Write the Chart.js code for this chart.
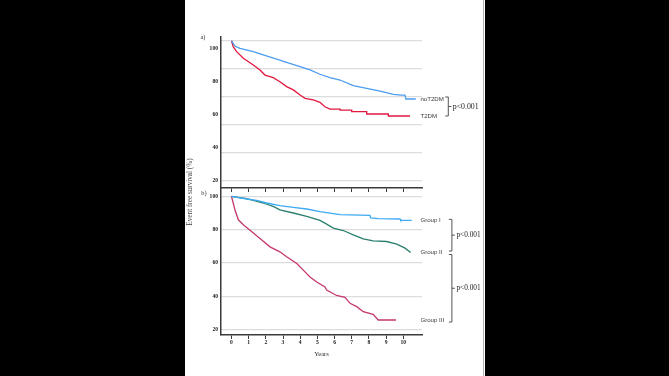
<!DOCTYPE html>
<html><head><meta charset="utf-8">
<script src="https://cdn.jsdelivr.net/npm/chart.js@4"></script>
<style>
html,body{margin:0;padding:0;background:#000;width:669px;height:376px;overflow:hidden}
#paper{position:absolute;left:185px;top:0;width:300px;height:376px;background:#fff}
#edge{position:absolute;left:483px;top:0;width:1px;height:376px;background:#b5b5b5}
canvas{position:absolute;left:185px;top:0}
</style></head><body>
<div id="paper"></div><div id="edge"></div>
<canvas id="ca" width="300" height="376"></canvas>
<canvas id="cb" width="300" height="376"></canvas>
<script>
// ---- data ----
const yearTicks = [0,1,2,3,4,5,6,7,8,9,10];
const survivalTicks = [20,40,60,80,100];
const panelAGridValues = [20,37,54,71,88,105];
const panelALabels = ['noT2DM','T2DM'];
const panelBLabels = ['Group I','Group II','Group III'];
const pText = 'p<0.001';

const noT2DM_t = [0,0.20,0.49,1.27,1.85,2.63,3.21,3.99,4.57,5.15,5.73,6.32,7.09,7.87,8.65,9.42,9.87,10.10,10.15,10.73];
const noT2DM_s = [105,101.8,100.4,98.4,96.4,93.9,91.9,89.3,87.3,84.7,82.6,81.2,77.8,76.2,74.5,72.5,72.1,72.1,69.7,69.7];

const T2DM_t = [0,0.10,0.30,0.69,1.27,1.66,1.95,2.43,2.82,3.21,3.60,3.99,4.28,4.76,5.15,5.44,5.73,6.32,6.32,7.00,7.00,7.87,7.87,9.13,9.13,10.39];
const T2DM_s = [105,101.4,98.4,94.4,90.3,87.3,84.2,82.6,80.2,77.2,75.2,72.1,70.1,69.1,67.7,65.0,63.6,63.6,63.0,63.0,62.0,62.0,60.6,60.6,59.4,59.4];

const groupI_t = [0,0.88,1.47,2.05,2.82,3.60,4.38,5.15,6.32,8.06,8.10,8.54,9.81,9.85,10.49];
const groupI_s = [100,98.4,97.6,96.0,94.4,93.4,92.4,90.8,89.0,88.6,87.0,86.6,86.4,85.6,85.6];

const groupII_t = [0,0.88,1.27,1.85,2.43,2.82,3.60,4.38,5.15,5.44,5.93,6.51,7.09,7.67,8.25,9.03,9.62,10.10,10.43];
const groupII_s = [100,98.6,97.6,96.0,94.0,91.9,90.0,88.0,85.6,83.9,80.9,79.5,76.9,74.5,73.3,72.9,71.3,68.9,66.3];

const groupIII_t = [0,0.10,0.20,0.40,0.69,1.08,1.66,2.24,2.82,3.21,3.80,4.18,4.57,4.96,5.44,5.54,6.12,6.61,6.90,7.29,7.67,8.25,8.54,9.58];
const groupIII_s = [100,96.0,91.9,85.9,82.9,79.7,74.7,69.7,66.7,63.7,59.7,55.7,51.6,48.6,45.6,43.8,40.5,39.4,35.8,33.8,30.8,29.2,25.8,25.8];

// ---- helpers ----
const pts = (t,s) => t.map((x,i)=>({x:x,y:s[i]}));
const SERIF = '"Liberation Serif", "Times New Roman", serif';
const SANS = '"Liberation Sans", Arial, sans-serif';
const tickFont = {family:SERIF, size:5.6, weight:'bold'};
const axisColor = '#3a3a3a';
const gridColor = '#dcdcdc';

function ds(label, t, s, color){
  return {label:label, data:pts(t,s), borderColor:color, borderWidth:1.3, pointRadius:0, tension:0, fill:false};
}
function xScale(showLabels, h, title){
  return {
    type:'linear', min:-0.61, max:11.09,
    afterBuildTicks: s => { s.ticks = yearTicks.map(v=>({value:v})); },
    afterFit: s => { s.height = h; },
    ticks:{display:showLabels, font:tickFont, color:'#222', padding:0, maxRotation:0, autoSkip:false},
    grid:{drawOnChartArea:false, drawTicks:true, tickLength:4, color:axisColor, lineWidth:1},
    border:{display:true, color:axisColor, width:1.5},
    title: title ? {display:true, text:title, font:{family:SERIF, size:6.6}, color:'#333', padding:0} : {display:false}
  };
}
function yScale(min,max,showGrid){
  return {
    type:'linear', min:min, max:max,
    afterBuildTicks: s => { s.ticks = survivalTicks.map(v=>({value:v})); },
    afterFit: s => { s.width = 20; },
    ticks:{font:tickFont, color:'#222', padding:3, autoSkip:false},
    grid:{display:showGrid, drawTicks:false, color:gridColor, lineWidth:1.2},
    border:{display:true, color:axisColor, width:1.5}
  };
}
function drawBracket(ctx, bx, top, bottom, text, size){
  ctx.save();
  ctx.strokeStyle = '#555'; ctx.lineWidth = 1;
  ctx.beginPath();
  ctx.moveTo(bx-3, top); ctx.lineTo(bx, top); ctx.lineTo(bx, bottom); ctx.lineTo(bx-3, bottom);
  const mid = (top+bottom)/2;
  ctx.moveTo(bx, mid); ctx.lineTo(bx+3, mid);
  ctx.stroke();
  ctx.fillStyle = '#222'; ctx.font = size + 'px ' + SERIF;
  ctx.textAlign = 'left'; ctx.textBaseline = 'middle';
  ctx.fillText(text, bx+4.5, mid);
  ctx.restore();
}
function endLabels(chart, names, bracketYear){
  const ctx = chart.ctx, xs = chart.scales.x, ys = chart.scales.y;
  const lx = xs.getPixelForValue(11.0);
  const ys_ = [];
  chart.data.datasets.forEach((d,i)=>{
    const last = d.data[d.data.length-1];
    const py = ys.getPixelForValue(last.y);
    ys_.push(py);
    ctx.save();
    ctx.fillStyle = '#3a3a3a'; ctx.font = '6.1px ' + SANS;
    ctx.textAlign='left'; ctx.textBaseline='middle';
    ctx.fillText(names[i], lx, py);
    ctx.restore();
  });
  return {ys:ys_, bx: xs.getPixelForValue(bracketYear)};
}

const annotA = {
  id:'annotA',
  afterDatasetsDraw(chart){
    const r = endLabels(chart, panelALabels, 12.62);
    drawBracket(chart.ctx, r.bx, r.ys[0]-2, r.ys[1], pText, 7.8);
    const ctx = chart.ctx, a = chart.chartArea;
    ctx.save(); ctx.fillStyle='#333'; ctx.font='6.4px '+SERIF;
    ctx.textAlign='center'; ctx.textBaseline='middle';
    ctx.fillText('a)', a.left-18, a.top);
    ctx.restore();
  }
};
const annotB = {
  id:'annotB',
  afterDatasetsDraw(chart){
    const r = endLabels(chart, panelBLabels, 12.83);
    drawBracket(chart.ctx, r.bx, r.ys[0]-1, r.ys[1]-1.5, pText, 7.3);
    drawBracket(chart.ctx, r.bx, r.ys[1]+2, r.ys[2]+2, pText, 7.3);
    const ctx = chart.ctx, a = chart.chartArea;
    ctx.save(); ctx.fillStyle='#333'; ctx.font='6.4px '+SERIF;
    ctx.textAlign='center'; ctx.textBaseline='middle';
    ctx.fillText('b)', a.left-17, a.top+4);
    ctx.translate(a.left-31, 192);
    ctx.rotate(-Math.PI/2);
    ctx.fillStyle='#444'; ctx.font='7.2px '+SERIF;
    ctx.fillText('Event free survival (%)', 0, 0);
    ctx.restore();
  }
};

const common = {responsive:false, animation:false, events:[],
  plugins:{legend:{display:false}, tooltip:{enabled:false}}};

new Chart(document.getElementById('ca'), {
  type:'line',
  data:{datasets:[ds('noT2DM', noT2DM_t, noT2DM_s, '#4b9df0'), ds('T2DM', T2DM_t, T2DM_s, '#e0173f')]},
  options:Object.assign({}, common, {
    layout:{padding:{left:16, right:63, top:37, bottom:183}},
    scales:{
      x: xScale(false, 5, null),
      y: yScale(15.76, 107.27, false),
      y2: {type:'linear', position:'right', min:15.76, max:107.27,
        afterBuildTicks: s => { s.ticks = panelAGridValues.map(v=>({value:v})); },
        afterFit: s => { s.width = 0; },
        ticks:{display:false},
        grid:{color:gridColor, lineWidth:1.2, drawTicks:false},
        border:{display:false}}
    }
  }),
  plugins:[annotA]
});

new Chart(document.getElementById('cb'), {
  type:'line',
  data:{datasets:[
    ds('Group I', groupI_t, groupI_s, '#3eaaf2'),
    ds('Group II', groupII_t, groupII_s, '#2a7f6e'),
    ds('Group III', groupIII_t, groupIII_s, '#c4376f')]},
  options:Object.assign({}, common, {
    layout:{padding:{left:16, right:63, top:189, bottom:18}},
    scales:{
      x: xScale(true, 23, 'Years'),
      y: yScale(16.8, 104.4, true)
    }
  }),
  plugins:[annotB]
});
</script>
</body></html>
